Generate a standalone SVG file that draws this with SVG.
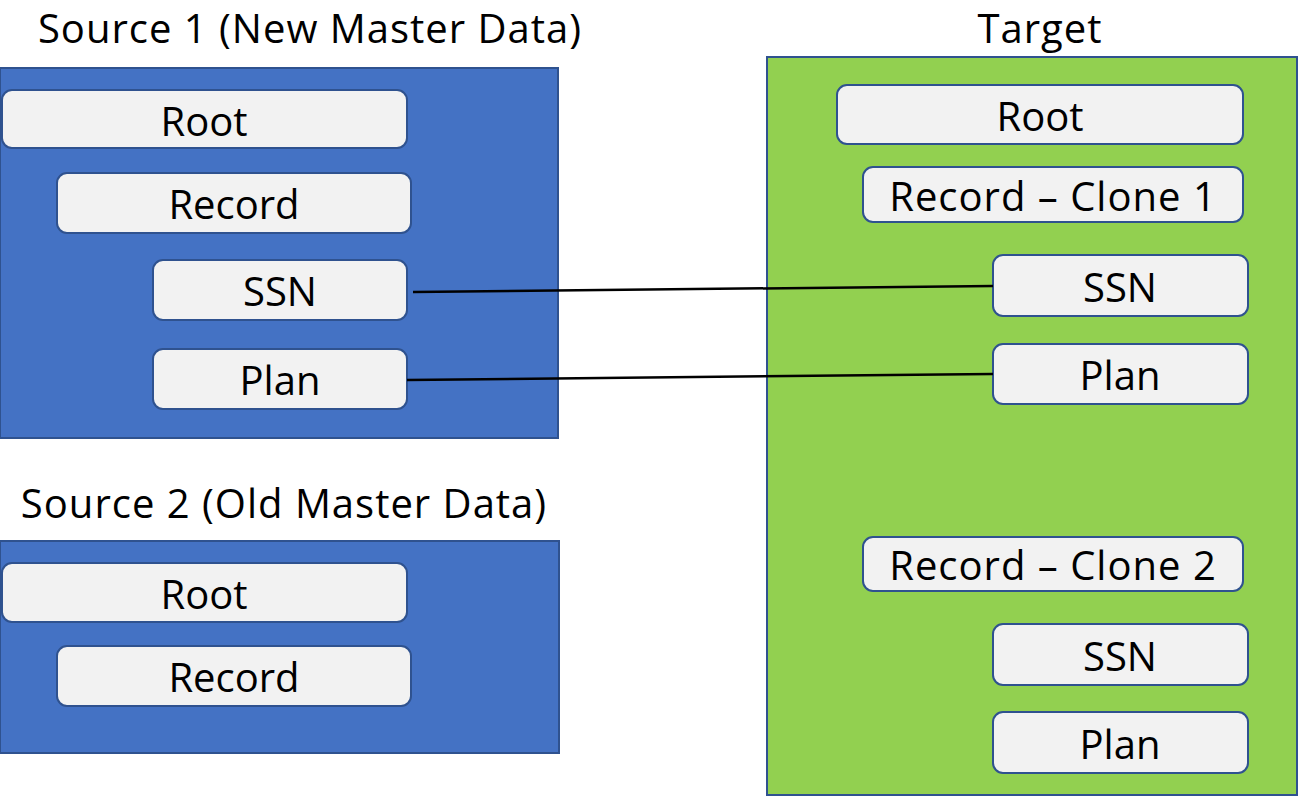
<svg xmlns="http://www.w3.org/2000/svg" width="1301" height="797" viewBox="0 0 1301 797">
<style>
.title{font-family:"Open Sans","Liberation Sans",sans-serif;font-size:40px;letter-spacing:1px;fill:#000;text-anchor:middle}
.lbl{font-family:"Open Sans","Liberation Sans",sans-serif;font-size:40px;fill:#000;text-anchor:middle}
.wide{letter-spacing:1px}
.blue{fill:#4472C4;stroke:#2F528F;stroke-width:2}
.green{fill:#92D050;stroke:#2F528F;stroke-width:2}
.node{fill:#F2F2F2;stroke:#2F528F;stroke-width:2}
.conn{stroke:#000;stroke-width:2.5;fill:none}
</style>
<rect width="1301" height="797" fill="#fff"/>
<g id="source1">
<text class="title" x="310" y="43">Source 1 (New Master Data)</text>
<rect class="blue" x="0" y="68" width="558" height="370"/>
</g>
<g id="source2">
<text class="title" x="284" y="518">Source 2 (Old Master Data)</text>
<rect class="blue" x="0" y="541" width="559" height="212"/>
</g>
<g id="target">
<text class="title" x="1040" y="43">Target</text>
<rect class="green" x="767" y="57" width="530" height="738"/>
</g>
<g id="s1-root"><rect class="node" x="2" y="90" width="405" height="58" rx="10"/><text class="lbl" x="204" y="136">Root</text></g>
<g id="s1-record"><rect class="node" x="57" y="173" width="354" height="60" rx="10"/><text class="lbl" x="234" y="219">Record</text></g>
<g id="s1-ssn"><rect class="node" x="153" y="260" width="254" height="60" rx="10"/><text class="lbl" x="280" y="306">SSN</text></g>
<g id="s1-plan"><rect class="node" x="153" y="349" width="254" height="60" rx="10"/><text class="lbl" x="280" y="395">Plan</text></g>
<g id="s2-root"><rect class="node" x="2" y="563" width="405" height="59" rx="10"/><text class="lbl" x="204" y="609">Root</text></g>
<g id="s2-record"><rect class="node" x="57" y="646" width="354" height="60" rx="10"/><text class="lbl" x="234" y="692">Record</text></g>
<g id="t-root"><rect class="node" x="837" y="85" width="406" height="59" rx="10"/><text class="lbl" x="1040" y="131">Root</text></g>
<g id="t-clone1"><rect class="node" x="863" y="167" width="380" height="55" rx="10"/><text class="lbl wide" x="1053" y="211">Record – Clone 1</text></g>
<g id="t-ssn1"><rect class="node" x="993" y="255" width="255" height="61" rx="10"/><text class="lbl" x="1120" y="302">SSN</text></g>
<g id="t-plan1"><rect class="node" x="993" y="344" width="255" height="60" rx="10"/><text class="lbl" x="1120" y="390">Plan</text></g>
<g id="t-clone2"><rect class="node" x="863" y="537" width="380" height="54" rx="10"/><text class="lbl wide" x="1053" y="580">Record – Clone 2</text></g>
<g id="t-ssn2"><rect class="node" x="993" y="624" width="255" height="61" rx="10"/><text class="lbl" x="1120" y="671">SSN</text></g>
<g id="t-plan2"><rect class="node" x="993" y="712" width="255" height="61" rx="10"/><text class="lbl" x="1120" y="759">Plan</text></g>
<g id="connectors">
<line class="conn" x1="413" y1="292" x2="993" y2="286"/>
<line class="conn" x1="407" y1="380" x2="993" y2="374"/>
</g>
</svg>
